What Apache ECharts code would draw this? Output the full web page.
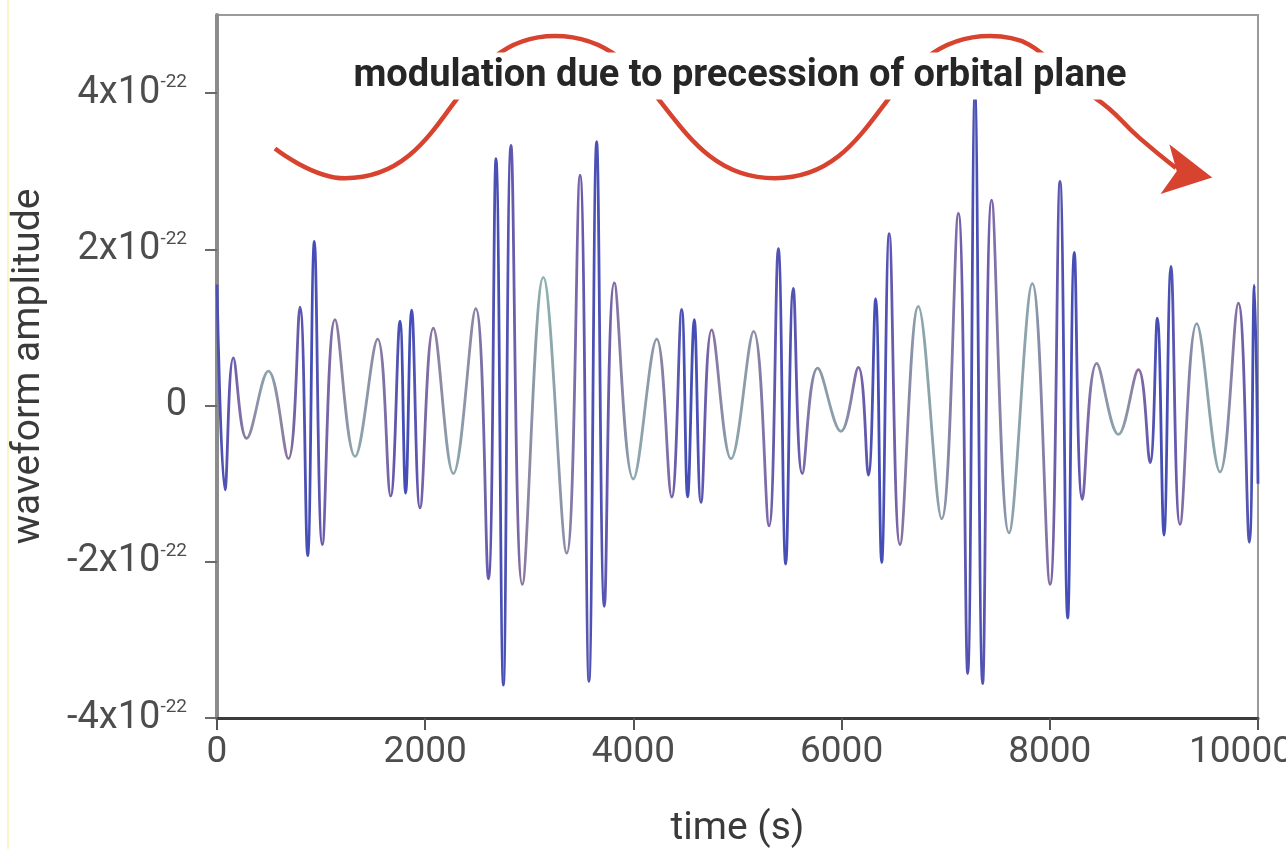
<!DOCTYPE html>
<html>
<head>
<meta charset="utf-8">
<script src="https://cdn.jsdelivr.net/npm/echarts@6/dist/echarts.min.js"></script>
<style>
html,body{margin:0;padding:0;background:#ffffff;}
#chart{width:1286px;height:849px;}
</style>
</head>
<body>
<div id="chart"></div>
<script>
// ---- data (amplitude in units of 1e-22, time in seconds) ----
const waveT = [0,77,157,285,493,685,797,871,935,1012,1134,1326,1543,1668,1758,1812,1870,1950,2078,2270,2485,2607,2680,2751,2824,2933,3135,3359,3487,3573,3647,3721,3817,3999,4224,4368,4464,4521,4585,4649,4752,4938,5155,5303,5392,5463,5536,5623,5770,5994,6161,6257,6327,6385,6458,6561,6737,6961,7121,7211,7281,7355,7442,7608,7832,8002,8098,8172,8236,8313,8451,8659,8851,8963,9033,9097,9164,9251,9411,9635,9811,9917,9965,10000];
const waveV = [1.55,-1.08,0.61,-0.42,0.44,-0.68,1.26,-1.92,2.10,-1.78,1.10,-0.65,0.85,-1.16,1.08,-1.12,1.22,-1.31,0.99,-0.87,1.24,-2.22,3.16,-3.58,3.33,-2.29,1.64,-1.89,2.95,-3.53,3.38,-2.57,1.57,-0.94,0.85,-1.17,1.23,-1.17,1.10,-1.24,0.97,-0.68,0.95,-1.54,2.01,-2.03,1.50,-0.87,0.48,-0.33,0.49,-0.89,1.37,-2.01,2.20,-1.78,1.27,-1.45,2.46,-3.43,3.99,-3.56,2.63,-1.63,1.56,-2.29,2.87,-2.72,1.96,-1.20,0.54,-0.37,0.46,-0.73,1.12,-1.66,1.78,-1.52,1.05,-0.85,1.31,-1.75,1.54,-1.00];

// red modulation annotation curve
const modT = [557,1230,3247,5360,7426,8434,8866,9212];
const modV = [3.29,2.91,4.73,2.91,4.73,3.94,3.42,3.04];
const arrowT = [9560];
const arrowV = [2.92];

const xTicks = [0,2000,4000,6000,8000,10000];
const yTicks = [-4,-2,0,2,4];
const yExponent = '-22';
const annotationText = 'modulation due to precession of orbital plane';
const xName = 'time (s)';
const yName = 'waveform amplitude';

// ---- build ----
const waveData = waveT.map((t,i)=>[t,waveV[i]]);
const modData = modT.map((t,i)=>[t,modV[i]]);
const arrowData = arrowT.map((t,i)=>[t,arrowV[i]]);
const xMax = xTicks[xTicks.length-1];

const chart = echarts.init(document.getElementById('chart'), null, {renderer:'canvas'});

const option = {
  animation:false,
  backgroundColor:'#ffffff',
  grid:{left:217,right:28,top:15,bottom:131,outerBoundsMode:'none',containLabel:false,
    show:true,borderColor:'#9a9a9a',borderWidth:2,backgroundColor:'transparent'},
  xAxis:{
    type:'value',min:0,max:10000,interval:2000,
    name:xName,nameLocation:'middle',nameGap:92,
    nameTextStyle:{fontFamily:'Roboto',fontSize:39,color:'#3a3a3a'},
    axisLine:{show:true,onZero:false,lineStyle:{color:'#3c3c3c',width:3}},
    axisTick:{show:true,length:12,lineStyle:{color:'#555',width:2},customValues:xTicks},
    axisLabel:{fontFamily:'Roboto',fontSize:37,color:'#4d4d4d',margin:16,customValues:xTicks,
      formatter:function(v){return v===xMax ? '{m|'+v+'}' : String(v);},
      rich:{m:{fontFamily:'Roboto',fontSize:37,color:'#4d4d4d',padding:[0,34,0,0]}}},
    splitLine:{show:false}
  },
  yAxis:{
    type:'value',min:-4,max:5,
    name:yName,nameLocation:'middle',nameGap:168,nameRotate:90,
    nameTextStyle:{fontFamily:'Roboto',fontSize:39,color:'#3a3a3a'},
    axisLine:{show:true,onZero:false,lineStyle:{color:'#8c8c8c',width:4}},
    axisTick:{show:true,length:12,lineStyle:{color:'#6a6a6a',width:2},customValues:yTicks},
    axisLabel:{
      customValues:yTicks,margin:30,
      formatter:function(v){ return v===0 ? '{a|0}' : '{a|'+v+'x10}{b|'+yExponent+'}'; },
      rich:{
        a:{fontFamily:'Roboto',fontSize:38,color:'#4d4d4d',lineHeight:40},
        b:{fontFamily:'Roboto',fontSize:19,color:'#4d4d4d',verticalAlign:'top',lineHeight:40,padding:[0,0,15,0]}
      }
    },
    splitLine:{show:false}
  },
  graphic:[
    {type:'line',shape:{x1:8,y1:0,x2:8,y2:849},style:{stroke:'#fbf0b8',lineWidth:1.5},z:1},
    {type:'text',x:740,y:76,z:50,
      style:{text:annotationText,font:'bold 38px Roboto',fill:'#262626',align:'center',verticalAlign:'middle',
        backgroundColor:'#ffffff',padding:[5,6,4,6]}}
  ],
  series:[
    {id:'mod',type:'line',data:modData,smooth:0.5,showSymbol:false,silent:true,
      lineStyle:{color:'#d8432f',width:4.5},z:2},
    {id:'arrow',type:'scatter',data:arrowData,symbol:'arrow',symbolSize:[38,48],symbolRotate:-100,silent:true,
      itemStyle:{color:'#d8432f',opacity:1},z:2},
    {id:'wave',type:'line',data:waveData,smooth:0.4,showSymbol:false,silent:true,
      lineStyle:{color:'#6a5fae',width:2.8},z:3}
  ]
};
chart.setOption(option);

// colour along the waveform from the local half-period between extrema
function mix(a,b,f){return a.map((v,i)=>Math.round(v+(b[i]-v)*f));}
const palette = [[70,[68,78,182]],[110,[118,94,170]],[155,[140,112,158]],[215,[140,186,178]]];
function colourFor(h){
  if(h<=palette[0][0]) return palette[0][1];
  for(let k=1;k<palette.length;k++){
    if(h<=palette[k][0]){
      const f=(h-palette[k-1][0])/(palette[k][0]-palette[k-1][0]);
      return mix(palette[k-1][1],palette[k][1],f);
    }
  }
  return palette[palette.length-1][1];
}
const n = waveT.length;
const stops = waveT.map((t,i)=>{
  const a = waveT[Math.max(0,i-1)], b = waveT[Math.min(n-1,i+1)];
  const h = (i===0||i===n-1) ? (b-a) : (b-a)/2;
  const c = colourFor(h);
  return {offset:(t-waveT[0])/(waveT[n-1]-waveT[0]), color:'rgb('+c.join(',')+')'};
});
const px0 = chart.convertToPixel({xAxisIndex:0}, waveT[0]);
const px1 = chart.convertToPixel({xAxisIndex:0}, waveT[n-1]);
chart.setOption({series:[{id:'wave',lineStyle:{color:new echarts.graphic.LinearGradient(px0,0,px1,0,stops,true)}}]});
</script>
</body>
</html>
